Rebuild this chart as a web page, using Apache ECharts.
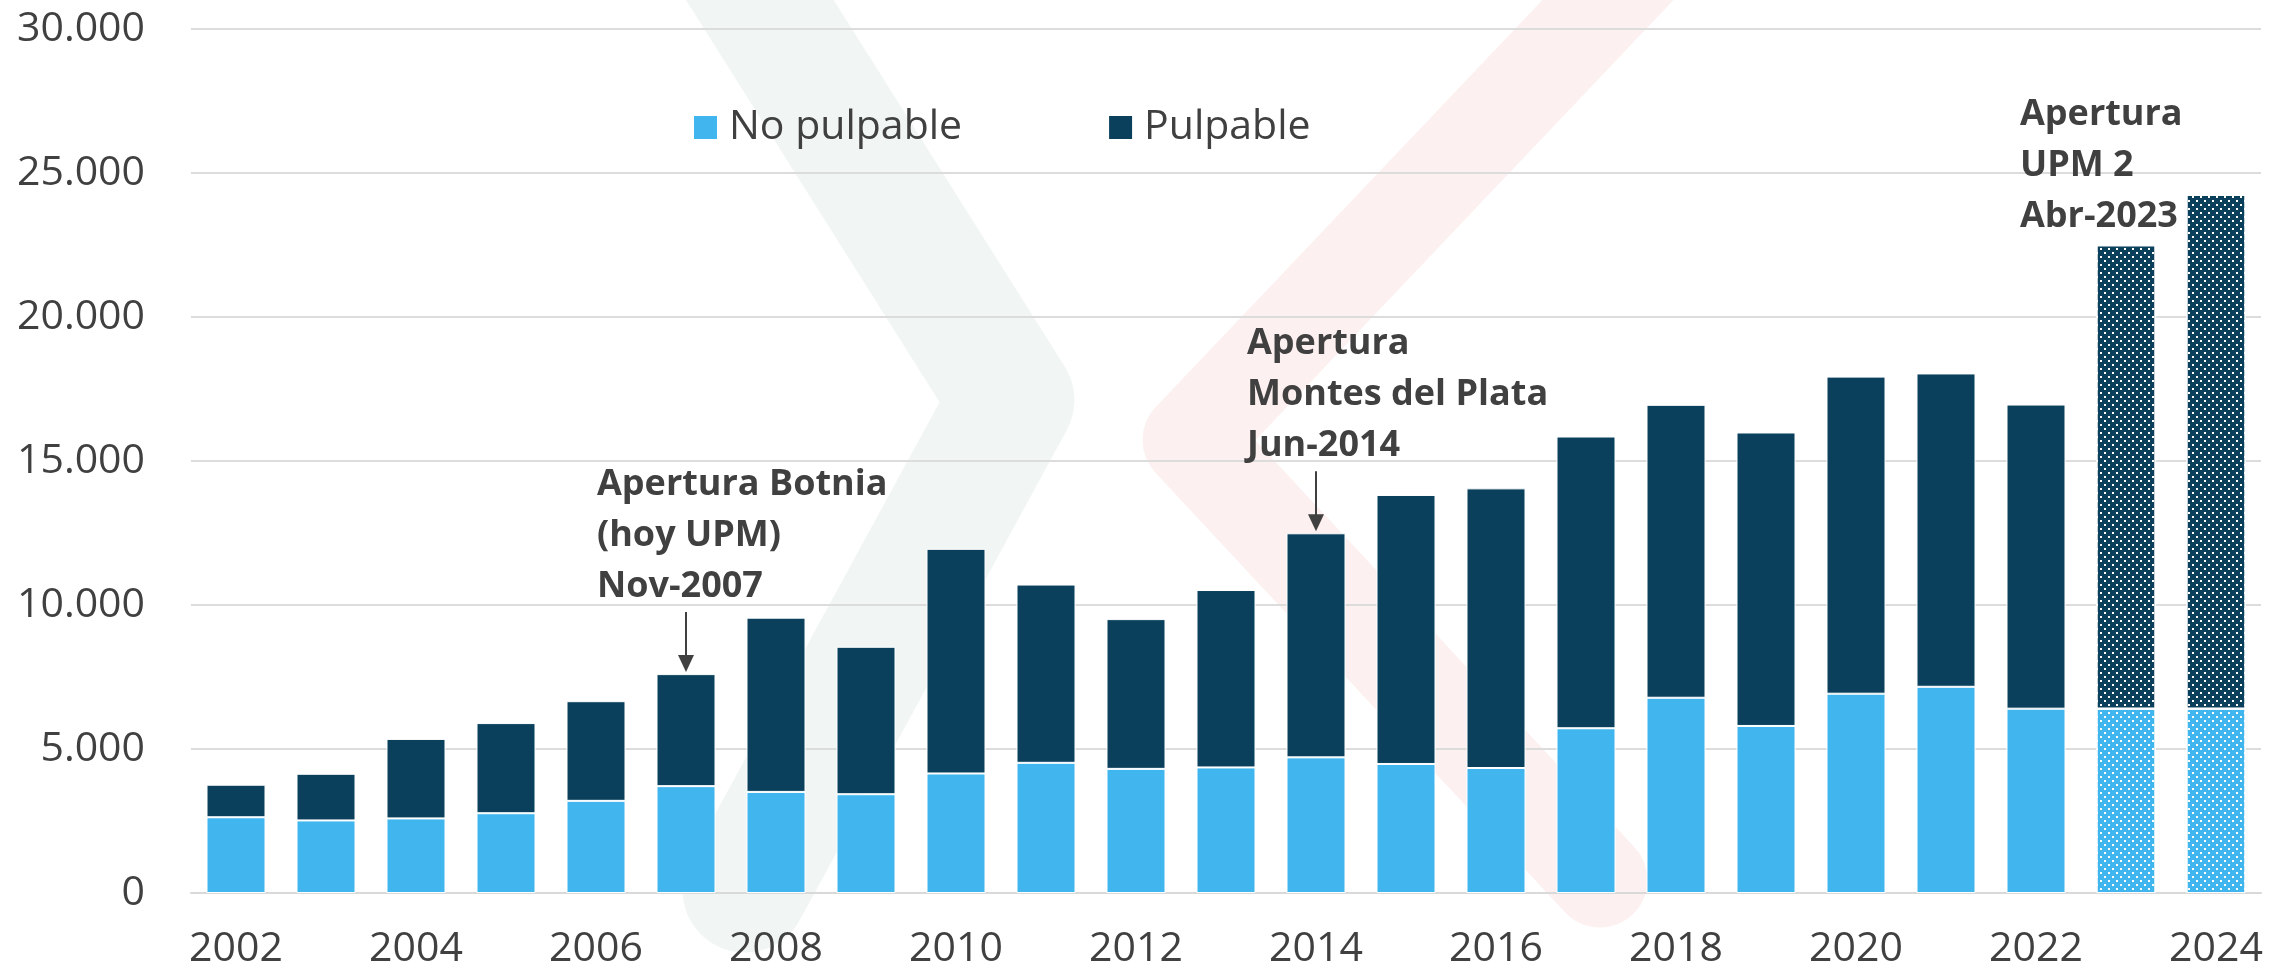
<!DOCTYPE html>
<html><head><meta charset="utf-8">
<script src="https://cdn.jsdelivr.net/npm/echarts@6/dist/echarts.min.js"></script>
<style>html,body{margin:0;padding:0;background:#fff}#c{width:2270px;height:974px}</style>
</head><body><div id="c"></div>
<script>
// ---- data ----
const years = ['2002','2003','2004','2005','2006','2007','2008','2009','2010','2011','2012','2013','2014','2015','2016','2017','2018','2019','2020','2021','2022','2023','2024'];
const noPulpable = [2630,2520,2590,2770,3200,3710,3510,3430,4150,4520,4310,4360,4710,4480,4340,5720,6780,5800,6920,7160,6400,6400,6400];
const pulpable   = [1130,1620,2760,3130,3460,3890,6050,5120,7800,6190,5200,6160,7780,9340,9710,10130,10170,10190,11010,10880,10560,16090,17840];
const projectedYears = ['2023','2024'];
const seriesNames = ['No pulpable','Pulpable'];
const yMin = 0, yMax = 30000, yStep = 5000;
const annotationYears = ['2007','2014','2023'];
const annotationTexts = [
  ['Apertura Botnia','(hoy UPM)','Nov-2007'],
  ['Apertura','Montes del Plata','Jun-2014'],
  ['Apertura','UPM 2','Abr-2023']
];
// ---- layout / style ----
const annotLayout = [
  {dx:-89, arrow:true, gap:62},
  {dx:-69, arrow:true, gap:62},
  {dx:-106, arrow:false, gap:3}
];
const LIGHT = '#41B6EE', DARK = '#0A405C', TXT = '#404040', GRID = '#DCDCDC';
const FONT = '"Open Sans", "Noto Sans", sans-serif';
const decal = {symbol:'rect', symbolSize:1, dashArrayX:[[2,6],[0,4,2,2]], dashArrayY:[2,2], color:'#ffffff', rotation:0};

function withDecal(arr){
  return arr.map((v,i)=> projectedYears.includes(years[i]) ? {value:v, itemStyle:{decal:decal}} : v);
}
const fmt = v => String(v).replace(/\B(?=(\d{3})+(?!\d))/g,'.');

const chart = echarts.init(document.getElementById('c'), null, {renderer:'canvas'});
chart.setOption({
  animation:false,
  backgroundColor:'#ffffff',
  grid:{left:191, right:9, top:29, bottom:81},
  legend:{
    data:seriesNames, left:692, top:107, padding:0, icon:'rect',
    itemWidth:25, itemHeight:25, itemGap:145,
    textStyle:{fontSize:41, lineHeight:41, color:TXT, fontFamily:FONT, padding:[0,0,0,6]}
  },
  xAxis:{
    type:'category', data:years,
    axisTick:{show:false},
    axisLine:{lineStyle:{color:'#D9D9D9', width:2}},
    axisLabel:{interval:1, color:TXT, fontSize:41, fontFamily:FONT, margin:36}
  },
  yAxis:{
    type:'value', min:yMin, max:yMax, interval:yStep,
    axisLine:{show:false}, axisTick:{show:false},
    splitLine:{lineStyle:{color:GRID, width:2}},
    axisLabel:{formatter:fmt, color:TXT, fontSize:41, fontFamily:FONT, margin:46}
  },
  series:[
    {name:seriesNames[0], type:'bar', stack:'t', barWidth:59, data:withDecal(noPulpable),
     itemStyle:{color:LIGHT, borderColor:'#ffffff', borderWidth:1}, z:3},
    {name:seriesNames[1], type:'bar', stack:'t', barWidth:59, data:withDecal(pulpable),
     itemStyle:{color:DARK, borderColor:'#ffffff', borderWidth:1}, z:3}
  ]
});

const g = [
  {type:'polyline', z:-10, silent:true, shape:{points:[[722,-60],[1012,400],[745,890]]},
   style:{stroke:'#F1F6F4', lineWidth:125, fill:null, lineCap:'round', lineJoin:'round'}},
  {type:'polyline', z:-10, silent:true, shape:{points:[[1665,-60],[1190,440],[1600,880]]},
   style:{stroke:'#FCF1F0', lineWidth:95, fill:null, lineCap:'round', lineJoin:'round'}}
];
annotationYears.forEach((yr,i)=>{
  const idx = years.indexOf(yr);
  const total = noPulpable[idx] + pulpable[idx];
  const p = chart.convertToPixel({gridIndex:0}, [idx, total]);
  const cx = p[0], top = p[1], L = annotLayout[i];
  if (L.arrow){
    g.push({type:'line', z:10, silent:true, shape:{x1:cx, y1:top-L.gap, x2:cx, y2:top-18},
      style:{stroke:TXT, lineWidth:2}});
    g.push({type:'polygon', z:10, silent:true, shape:{points:[[cx-8,top-19],[cx+8,top-19],[cx,top-2]]},
      style:{fill:TXT}});
  }
  g.push({type:'text', z:10, silent:true, x:cx+L.dx, y:top-L.gap,
    style:{text:annotationTexts[i].join('\n'), font:'bold 36px '+FONT, fill:TXT, lineHeight:51,
      align:'left', verticalAlign:'bottom', textAlign:'left', textVerticalAlign:'bottom'}});
});
chart.setOption({graphic:g});
</script></body></html>
